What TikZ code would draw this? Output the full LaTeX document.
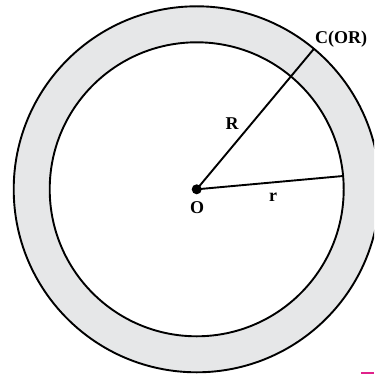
\documentclass[tikz,border=0pt]{standalone}
\usepackage{fontspec}
\setmainfont{Liberation Serif}
\definecolor{ringgray}{HTML}{E6E7E8}
\definecolor{mag}{HTML}{E0218A}
\begin{document}
\begin{tikzpicture}[x=1pt,y=-1pt,
  edge/.style={line width=1.9pt,black},
  lbl/.style={font=\bfseries\fontsize{18}{18}\selectfont,inner sep=0pt}]
\useasboundingbox (0,0) rectangle (374,374);
\coordinate (O) at (196.7,189.3);
\coordinate (C) at (313.8,49.0);
\coordinate (P) at (343.1,176.0);
\begin{scope}
\clip (0,0) rectangle (374,374);
\fill[ringgray,even odd rule] (O) circle[radius=183] (O) circle[radius=147];
\draw[edge] (O) circle[radius=183];
\draw[edge] (O) circle[radius=147];
\end{scope}
\draw[edge] (O) -- (C);
\draw[edge] (O) -- (P);
\fill (O) circle[radius=5];
\node[lbl] (lc) at (341,39) {C(OR)};
\node[lbl] (lR) at (232,124) {R};
\node[lbl] (lr) at (273,197) {r};
\node[lbl] (lO) at (197,208) {O};
\fill[mag] (361,371.5) rectangle (374,374);
\end{tikzpicture}
\end{document}
